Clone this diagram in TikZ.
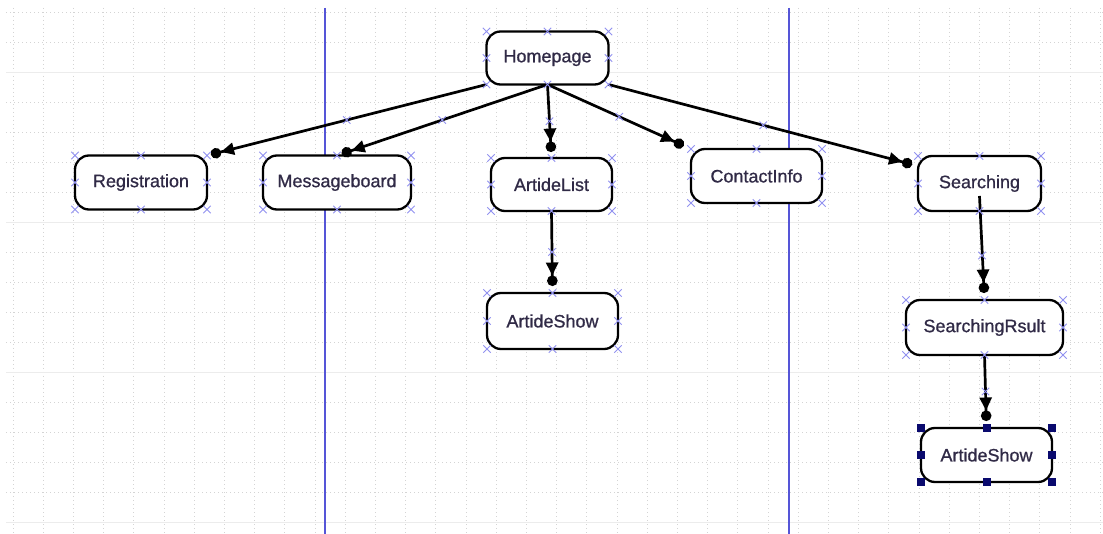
\documentclass[tikz,border=0pt]{standalone}
\usepackage{fontspec}
\setmainfont{Liberation Sans}
\newfontfamily\labelfont{Liberation Sans}[FakeBold=0.8]
\usetikzlibrary{arrows.meta,shapes.misc,calc}

\definecolor{gridgray}{RGB}{212,212,212}
\definecolor{laneblue}{RGB}{85,85,215}
\definecolor{portblue}{RGB}{145,145,240}
\definecolor{handlenavy}{RGB}{10,10,110}
\definecolor{labeltext}{RGB}{48,42,70}

\begin{document}
\begin{tikzpicture}[x=1pt,y=-1pt,
  state/.style={draw=black, line width=2.3pt, fill=white, rounded corners=14pt,
    inner sep=0pt, outer sep=0pt, minimum height=54pt, text=labeltext,
    font=\labelfont\fontsize{18}{20}\selectfont},
  link/.style={line width=2.7pt,
    -{Triangle[length=13pt,width=12pt] Circle[length=10.5pt,sep=3pt]}},
  port/.style={cross out, draw=portblue, line width=0.9pt, minimum size=6.5pt, inner sep=0pt},
  handle/.style={fill=handlenavy, minimum size=8pt, inner sep=0pt},
]
\useasboundingbox (0,0) rectangle (1103,534);
\fill[white] (0,0) rectangle (1103,534);

% background grid
\foreach \i in {0,...,17}
  \draw[gridgray, dash pattern=on 1pt off 3pt, line width=0.8pt] (6,12+30*\i) -- (1103,12+30*\i);
\foreach \i in {0,...,36}
  \draw[gridgray, dash pattern=on 1pt off 3pt, line width=0.8pt] (13+30.2*\i,8) -- (13+30.2*\i,534);
\foreach \y in {72,222,372,522}
  \draw[gridgray!45, line width=0.6pt] (6,\y) -- (1103,\y);

% swimlane separators
\draw[laneblue, line width=1.4pt] (325,8) -- (325,534);
\draw[laneblue, line width=1.4pt] (789,8) -- (789,534);

% states
\node[state, minimum width=122pt, minimum height=53pt] (home) at (547.5,58) {Homepage};
\node[state, minimum width=132pt] (reg) at (141,182.5) {Registration};
\node[state, minimum width=148pt] (msg) at (337,182.5) {Messageboard};
\node[state, minimum width=121pt, minimum height=53pt] (list) at (551.5,184.5) {ArtideList};
\node[state, minimum width=131pt] (contact) at (756.5,176) {ContactInfo};
\node[state, minimum width=123pt, minimum height=55pt] (search) at (979.5,183.5) {Searching};
\node[state, minimum width=131pt, minimum height=56pt] (showA) at (552.5,321) {ArtideShow};
\node[state, minimum width=157pt, minimum height=55pt] (result) at (984.5,327.5) {SearchingRsult};
\node[state, minimum width=131pt] (showB) at (986.5,455) {ArtideShow};

% transitions
\coordinate (searchIn) at ($(search.north west)+(0,10)$);
\coordinate (searchOut) at ($(search.south)+(0,-15)$);
\draw[link, shorten >=1pt] (home.south west) -- (reg.north east);
\draw[link, shorten >=2pt] (home.south) -- (msg.north);
\draw[link, shorten >=3pt] (home.south) -- (list.north);
\draw[link, shorten >=5pt] (home.south) -- (contact.north west);
\draw[link, shorten >=3pt] (home.south east) -- (searchIn);
\draw[link, shorten >=4pt] (searchOut) -- (result.north);
\draw[link, shorten >=4pt] (list.south) -- (showA.north);
\draw[link, shorten >=4pt] (result.south) -- (showB.north);

% connection points
\foreach \n in {home,reg,msg,list,contact,search,showA,result}
  \foreach \a in {north west,north,north east,east,south east,south,south west,west}
    \node[port] at (\n.\a) {};
\node[port] at ($(home.south west)!0.5!(reg.north east)$) {};
\node[port] at ($(home.south)!0.5!(msg.north)$) {};
\node[port] at ($(home.south)!0.5!(list.north)$) {};
\node[port] at ($(home.south)!0.5!(contact.north west)$) {};
\node[port] at ($(home.south east)!0.5!(searchIn)$) {};
\node[port] at ($(search.south)!0.5!(result.north)$) {};
\node[port] at ($(list.south)!0.5!(showA.north)$) {};
\node[port] at ($(result.south)!0.5!(showB.north)$) {};

% selection handles
\foreach \a in {north west,north,north east,east,south east,south,south west,west}
  \node[handle] at (showB.\a) {};
\end{tikzpicture}
\end{document}
